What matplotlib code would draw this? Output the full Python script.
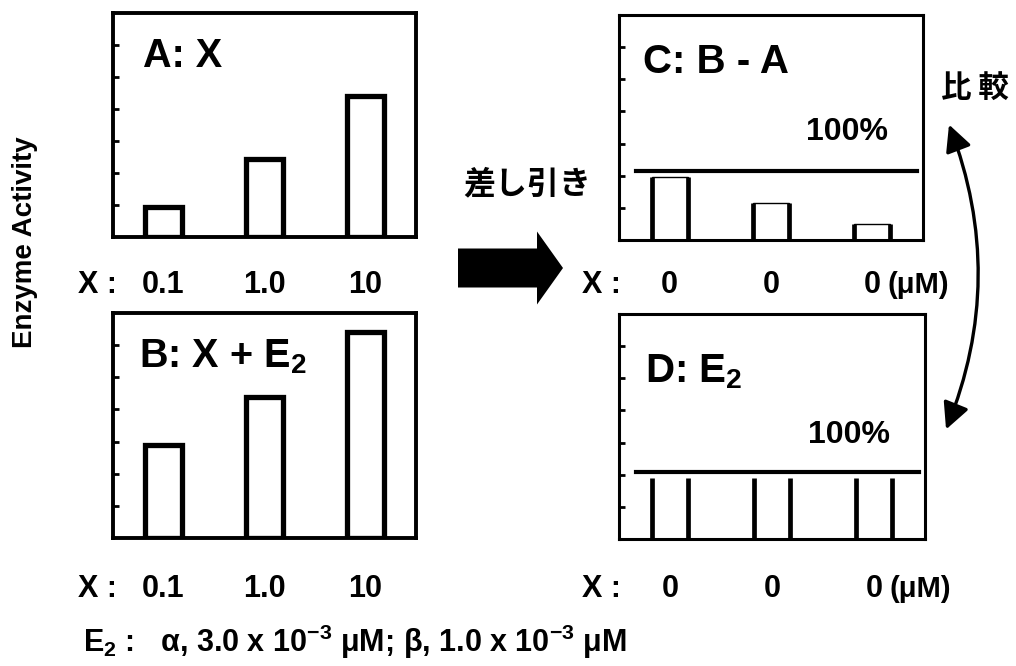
import matplotlib.pyplot as plt
import matplotlib.transforms as mtransforms
from matplotlib.patches import FancyArrow, FancyArrowPatch

plt.rcParams['font.family'] = ['Liberation Sans', 'DejaVu Sans']
plt.rcParams['font.weight'] = 'bold'
plt.rcParams['mathtext.fontset'] = 'custom'
plt.rcParams['mathtext.rm'] = 'Liberation Sans:bold'
plt.rcParams['mathtext.it'] = 'Liberation Sans:bold'
plt.rcParams['mathtext.bf'] = 'Liberation Sans:bold'
plt.rcParams['mathtext.sf'] = 'Liberation Sans:bold'

# data (tick units on the activity axis)
x_pos = [0, 1, 2]
conc_left = ['0.1', '1.0', '10']
conc_right = ['0', '0', '0']
act_a = [0.95, 2.45, 4.4]
act_b = [2.9, 4.4, 6.4]
act_c = [1.95, 1.15, 0.5]
act_d = [1.9, 1.9, 1.9]
level_c = 2.15
level_d = 2.1
yticks = [1, 2, 3, 4, 5, 6]

W, H = 1016, 666
fig = plt.figure(figsize=(W / 100, H / 100), dpi=100)


def add_panel(l, t, r, b, lw):
    ax = fig.add_axes([l / W, 1 - b / H, (r - l) / W, (b - t) / H])
    ax.set_xlim(-0.5, 2.5)
    ax.set_ylim(0, 7)
    ax.set_xticks([])
    ax.set_yticks(yticks)
    ax.tick_params(axis='y', direction='in', length=4, width=2, labelleft=False)
    for s in ax.spines.values():
        s.set_linewidth(lw)
    return ax


ax_a = add_panel(113, 13, 416, 237, 2.8)
ax_b = add_panel(113, 313, 416, 538, 2.8)
ax_c = add_panel(619, 15, 923, 240, 2.2)
ax_d = add_panel(619, 314, 925, 539, 2.2)

# A and B: open bars with thick outline
ax_a.bar(x_pos, act_a, width=0.36, color='white', edgecolor='black', linewidth=3.8)
ax_b.bar(x_pos, act_b, width=0.36, color='white', edgecolor='black', linewidth=3.8)

# C: thick sides, thin top
ax_c.bar(x_pos, act_c, width=0.356, color='white', edgecolor='black', linewidth=1.0)
ax_c.vlines([x - 0.178 for x in x_pos] + [x + 0.178 for x in x_pos], 0, act_c + act_c,
            color='black', linewidth=3.4)
ax_c.axhline(level_c, xmin=0.056, xmax=0.98, color='black', linewidth=3)

# D: sides only
ax_d.vlines([x - 0.178 for x in x_pos] + [x + 0.178 for x in x_pos], 0, act_d + act_d,
            color='black', linewidth=3.4)
ax_d.axhline(level_d, xmin=0.056, xmax=0.98, color='black', linewidth=3)

# panel titles
ax_a.text(0.099, 0.759, 'A: X', transform=ax_a.transAxes, fontsize=28.5, va='baseline')
ax_b.text(0.086, 0.76, r'B: X + E$_2$', transform=ax_b.transAxes, fontsize=28.5, va='baseline')
ax_c.text(0.079, 0.742, 'C: B - A', transform=ax_c.transAxes, fontsize=29, va='baseline')
ax_d.text(0.085, 0.698, r'D: E$_2$', transform=ax_d.transAxes, fontsize=29, va='baseline')
ax_c.text(0.885, 0.444, '100%', transform=ax_c.transAxes, fontsize=23, va='baseline', ha='right')
ax_d.text(0.885, 0.427, '100%', transform=ax_d.transAxes, fontsize=23, va='baseline', ha='right')


def conc_row(ax, labels, ybase, xlab, unit=False):
    tr = mtransforms.blended_transform_factory(ax.transData, ax.transAxes)
    ax.text(xlab, ybase, 'X :', transform=ax.transAxes, fontsize=22, va='baseline', clip_on=False)
    for x, lab in zip(x_pos, labels):
        ax.text(x, ybase, lab, transform=tr, fontsize=22, ha='center', va='baseline', clip_on=False)
    if unit:
        ax.annotate('(μM)', xy=(x_pos[-1], ybase), xycoords=tr, xytext=(11, 0),
                    textcoords='offset points', fontsize=21, va='baseline')


conc_row(ax_a, conc_left, -0.25, -0.1155)
conc_row(ax_b, conc_left, -0.262, -0.1155)
conc_row(ax_c, conc_right, -0.236, -0.122, unit=True)
conc_row(ax_d, conc_right, -0.258, -0.122, unit=True)

fig.text(25 / W, 1 - 242 / H, 'Enzyme Activity', rotation=90, fontsize=20,
         ha='center', va='center')

fig.text(83 / W, 1 - 652 / H, r'E$_2$ :   α, 3.0 x 10$^{-3}$ μM; β, 1.0 x 10$^{-3}$ μM',
         fontsize=22, va='baseline')

# subtraction arrow
fig.add_artist(FancyArrow(4.58, (H - 268) / 100, 1.05, 0, width=0.39, head_width=0.73,
                          head_length=0.26, length_includes_head=True,
                          transform=fig.dpi_scale_trans, color='black', lw=0))
fig.text(527 / W, 1 - 184 / H, '差し引き', family=['Noto Sans CJK JP', 'DejaVu Sans'],
         fontsize=23, fontweight='bold', ha='center', va='center')

# comparison arrow
fig.add_artist(FancyArrowPatch((9.48, (H - 122) / 100), (9.45, (H - 432) / 100),
                               transform=fig.dpi_scale_trans,
                               connectionstyle='arc3,rad=-0.2',
                               arrowstyle='<|-|>,head_length=0.8,head_width=0.4',
                               mutation_scale=20, color='black', lw=2.4))
fig.text(975 / W, 1 - 88 / H, '比 較', family=['Noto Sans CJK JP', 'DejaVu Sans'],
         fontsize=22, ha='center', va='center')

fig.savefig('out.png', dpi=100)
